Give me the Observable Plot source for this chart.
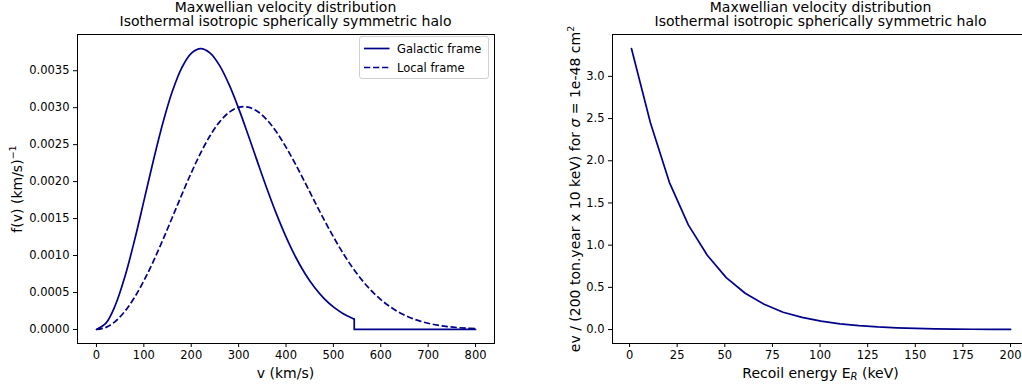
<!DOCTYPE html>
<html><head><meta charset="utf-8">
<script src="https://cdn.jsdelivr.net/npm/d3@7"></script>
<script src="https://cdn.jsdelivr.net/npm/@observablehq/plot@0.6"></script>
<style>
body{margin:0;background:#fff;}
#wrap{position:relative;width:1022px;height:390px;overflow:hidden;font-family:"DejaVu Sans";color:#000;}
.pl{position:absolute;top:0;}
.title{position:absolute;top:0;font-size:14px;line-height:14.3px;text-align:center;white-space:nowrap;transform:translateX(-50%);}
.xl{position:absolute;font-size:14px;white-space:nowrap;transform:translate(-50%,-50%);}
.yl{position:absolute;font-size:14px;white-space:nowrap;transform:translate(-50%,-50%) rotate(-90deg);}
sup.s{font-size:9.5px;vertical-align:6px;line-height:0;}
sub.s{font-size:10px;vertical-align:-2px;line-height:0;}
.leg{position:absolute;left:359px;top:36px;width:128px;height:41px;border:1px solid #d0d0d0;border-radius:3px;background:rgba(255,255,255,0.8);font-size:11.5px;}
.leg .row{position:absolute;left:37px;transform:translateY(-50%);white-space:nowrap;}
</style></head><body><div id="wrap"></div>
<script>
// ---- Left panel data: Maxwellian velocity distribution ----
const galV = [0,20,40,60,80,100,120,140,160,180,200,220,240,260,280,300,320,340,360,380,400,420,440,460,480,500,520,540,544];
const galF = [0,8.47e-5,3.303e-4,7.130e-4,1.1964e-3,1.7354e-3,2.2820e-3,2.7895e-3,3.2185e-3,3.5395e-3,3.7350e-3,3.7992e-3,3.7389e-3,3.5688e-3,3.3111e-3,2.9909e-3,2.6341e-3,2.2636e-3,1.9005e-3,1.5597e-3,1.2522e-3,9.835e-4,7.566e-4,5.701e-4,4.210e-4,3.047e-4,2.161e-4,1.504e-4,1.396e-4];
const galCutV = [544,544,800];
const galCutF = [1.396e-4,0,0];
const locV = [0,20,40,60,80,100,120,140,160,180,200,220,240,260,280,300,320,340,360,380,400,420,440,460,480,500,520,540,560,580,600,620,640,660,680,700,720,740,760,780,800];
const locF = [0,2.78e-5,1.106e-4,2.460e-4,4.303e-4,6.578e-4,9.211e-4,1.2105e-3,1.5150e-3,1.8219e-3,2.1177e-3,2.3889e-3,2.6228e-3,2.8085e-3,2.9375e-3,3.0044e-3,3.0077e-3,2.9491e-3,2.8337e-3,2.6697e-3,2.4666e-3,2.2361e-3,1.9891e-3,1.7370e-3,1.4889e-3,1.2532e-3,1.0357e-3,8.408e-4,6.705e-4,5.251e-4,4.041e-4,3.055e-4,2.270e-4,1.658e-4,1.189e-4,8.38e-5,5.81e-5,3.95e-5,2.65e-5,1.74e-5,1.13e-5];
const vTicks = [0,100,200,300,400,500,600,700,800];
const fTicks = [0,0.0005,0.0010,0.0015,0.0020,0.0025,0.0030,0.0035];
const seriesNames = ["Galactic frame","Local frame"];

// ---- Right panel data: recoil spectrum ----
const energy = [1,10.95,20.9,30.85,40.8,50.75,60.7,70.65,80.6,90.55,100.5,110.45,120.4,130.35,140.3,150.25,160.2,170.15,180.1,190.05,200];
const rate = [3.33,2.45,1.745,1.24,0.88,0.615,0.43,0.30,0.205,0.145,0.10,0.068,0.046,0.031,0.021,0.014,0.009,0.006,0.004,0.0025,0.0015];
const eTicks = [0,25,50,75,100,125,150,175,200];
const rTicks = [0,0.5,1.0,1.5,2.0,2.5,3.0];

const titleLines = ["Maxwellian velocity distribution","Isothermal isotropic spherically symmetric halo"];

const C = "darkblue";
const LW = 1.7;
const DASH = "6.3,2.7";
const zip = (xs, ys, kx, ky) => xs.map((x,i)=>({[kx]:x,[ky]:ys[i]}));

const wrap = document.getElementById("wrap");
const baseStyle = {fontFamily:"DejaVu Sans", fontSize:"11.5px", color:"black", background:"white", overflow:"visible"};

const left = Plot.plot({
  width:511, height:390, marginLeft:77, marginRight:17, marginTop:34, marginBottom:47,
  style: baseStyle,
  x:{domain:[-40,840], ticks:vTicks, tickFormat:"d", label:null, tickSize:4, tickPadding:3},
  y:{domain:[-0.00019,0.00399], ticks:fTicks, tickFormat:".4f", label:null, tickSize:4, tickPadding:4},
  marks:[
    Plot.line(zip(locV,locF,"v","f"), {x:"v", y:"f", stroke:C, strokeWidth:LW, strokeDasharray:DASH, strokeLinecap:"butt", curve:"catmull-rom"}),
    Plot.line(zip(galV,galF,"v","f"), {x:"v", y:"f", stroke:C, strokeWidth:LW, curve:"catmull-rom"}),
    Plot.line(zip(galCutV,galCutF,"v","f"), {x:"v", y:"f", stroke:C, strokeWidth:LW, curve:"linear"}),
    Plot.frame({stroke:"black", strokeWidth:1})
  ]
});
left.classList.add("pl"); left.style.left="0px";
wrap.appendChild(left);

const right = Plot.plot({
  width:528, height:390, marginLeft:101, marginRight:10, marginTop:34, marginBottom:47,
  style: baseStyle,
  x:{domain:[-8.95,209.95], ticks:eTicks, tickFormat:"d", label:null, tickSize:4, tickPadding:3},
  y:{domain:[-0.165,3.496], ticks:rTicks, tickFormat:".1f", label:null, tickSize:4, tickPadding:4},
  marks:[
    Plot.line(zip(energy,rate,"e","r"), {x:"e", y:"r", stroke:C, strokeWidth:LW, curve:"linear"}),
    Plot.frame({stroke:"black", strokeWidth:1})
  ]
});
right.classList.add("pl"); right.style.left="511px";
wrap.appendChild(right);

function addHTML(cls, html, x, y){
  const d=document.createElement("div"); d.className=cls; d.innerHTML=html;
  d.style.left=x+"px"; if(y!==null) d.style.top=y+"px"; wrap.appendChild(d); return d;
}
addHTML("title", titleLines.join("<br>"), 285.5, 0);
addHTML("title", titleLines.join("<br>"), 820.5, 0);
addHTML("xl", "v (km/s)", 285.5, 373);
addHTML("xl", 'Recoil energy E<sub class="s"><i>R</i></sub> (keV)', 820.5, 373);
addHTML("yl", 'f(v) (km/s)<sup class="s">−1</sup>', 17, 188.5);
addHTML("yl", 'ev / (200 ton.year x 10 keV) for <i>σ</i> = 1e-48 cm<sup class="s">2</sup>', 575, 188.5);

// legend
const leg = document.createElement("div"); leg.className="leg";
leg.innerHTML = `<svg width="40" height="41" style="position:absolute;left:0;top:0">
<line x1="4" x2="29.5" y1="11.5" y2="11.5" stroke="${C}" stroke-width="${LW}"/>
<line x1="4" x2="29.5" y1="30.5" y2="30.5" stroke="${C}" stroke-width="${LW}" stroke-dasharray="${DASH}"/>
</svg><div class="row" style="top:11.5px">${seriesNames[0]}</div><div class="row" style="top:30.5px">${seriesNames[1]}</div>`;
wrap.appendChild(leg);
</script>
</body></html>
